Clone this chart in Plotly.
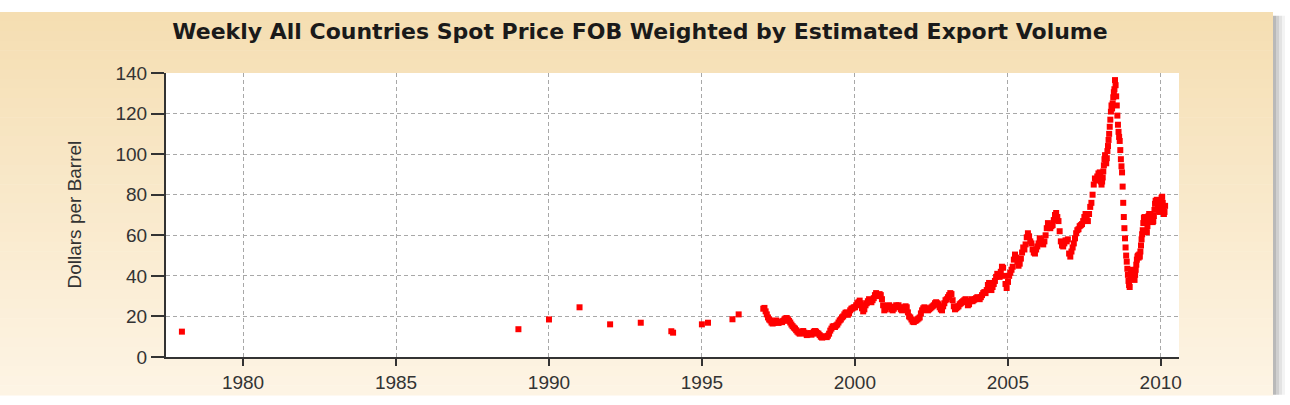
import pandas as pd
import plotly.graph_objects as go

# ---------------- data ----------------
early_dates = ["1978-01-01", "1989-01-01", "1990-01-01", "1991-01-01", "1992-01-01",
               "1993-01-01", "1994-01-01", "1994-01-22", "1995-01-01", "1995-03-15",
               "1996-01-01", "1996-03-15"]
early_vals = [12.5, 13.7, 18.5, 24.5, 16.1, 16.9, 12.7, 12.0, 16.1, 16.9, 18.6, 21.0]

# bi-weekly readings, 26 per year
biweekly = {
    1997: [23.8, 24.2, 22.5, 21.0, 19.5, 18.5, 18.0, 17.0, 16.5, 16.8, 17.5, 18.0, 17.2,
           16.8, 17.2, 17.5, 17.2, 17.8, 18.5, 19.0, 19.2, 18.5, 17.8, 17.0, 16.0, 15.2],
    1998: [14.5, 14.0, 13.2, 12.5, 12.0, 11.5, 12.0, 12.5, 12.8, 12.0, 11.5, 10.8, 11.2,
           11.5, 11.8, 11.0, 11.5, 12.5, 12.8, 12.5, 11.8, 11.5, 10.8, 10.0, 9.6, 9.8],
    1999: [10.2, 10.0, 9.8, 10.5, 11.5, 13.0, 14.0, 15.0, 15.2, 14.8, 15.5, 16.0, 17.0,
           18.0, 18.5, 19.5, 20.0, 21.0, 21.8, 22.0, 20.8, 21.5, 23.0, 23.8, 24.0, 24.5],
    2000: [24.5, 25.5, 26.5, 27.0, 27.8, 26.5, 24.0, 22.5, 23.5, 25.5, 26.5, 27.5, 28.5,
           27.8, 27.0, 28.0, 29.0, 30.5, 31.5, 30.0, 30.5, 31.0, 30.5, 28.5, 25.5, 23.0],
    2001: [23.5, 24.8, 25.2, 25.5, 24.5, 23.5, 23.0, 23.8, 24.8, 25.5, 25.0, 25.5, 24.5,
           23.5, 23.0, 24.0, 24.5, 25.0, 24.5, 22.0, 20.0, 19.5, 18.5, 17.5, 17.2, 17.8],
    2002: [18.0, 18.5, 19.0, 19.5, 21.5, 23.0, 24.0, 24.5, 24.0, 23.5, 23.0, 23.5, 24.0,
           24.5, 25.0, 25.5, 26.5, 27.0, 26.5, 26.0, 24.5, 23.5, 23.0, 25.0, 26.5, 28.0],
    2003: [28.5, 29.5, 30.5, 31.5, 31.0, 28.0, 25.0, 23.5, 24.0, 24.5, 25.0, 26.0, 26.5,
           27.0, 27.5, 28.0, 28.5, 27.5, 25.5, 26.0, 27.5, 28.5, 27.5, 28.0, 28.5, 29.0],
    2004: [29.5, 29.0, 28.5, 29.5, 30.5, 31.5, 32.0, 31.5, 33.0, 35.5, 36.5, 34.0, 33.0,
           34.5, 36.0, 37.5, 39.5, 41.0, 40.0, 39.5, 42.0, 44.5, 44.0, 40.0, 36.0, 34.0],
    2005: [37.0, 40.0, 41.5, 43.0, 44.5, 48.0, 50.5, 49.0, 47.0, 45.0, 46.0, 48.5, 51.5,
           54.0, 53.0, 55.5, 59.0, 61.0, 59.5, 57.0, 56.0, 53.0, 51.5, 51.0, 53.0, 54.5],
    2006: [56.0, 58.5, 58.0, 56.0, 55.5, 57.0, 60.0, 63.5, 66.0, 65.0, 63.5, 64.5, 65.0,
           67.5, 70.0, 71.0, 69.0, 67.0, 62.0, 57.0, 55.0, 54.5, 56.0, 57.5, 57.0, 58.0],
    2007: [51.0, 49.5, 52.0, 54.0, 56.0, 58.5, 61.0, 62.5, 63.0, 64.5, 65.0, 65.5, 67.0,
           69.0, 70.5, 68.0, 67.0, 70.5, 74.0, 76.0, 80.0, 85.0, 88.0, 87.0, 89.0, 90.5],
}

# weekly readings
weekly = {
    2008: [91.0, 89.0, 86.5, 85.0,
           86.5, 88.5, 91.5, 94.5,
           97.5, 99.5, 97.0, 95.5, 98.0,
           101.5, 104.0, 107.0, 110.0,
           113.5, 117.0, 121.0, 124.0,
           122.5, 125.0, 128.0, 130.5, 132.0,
           136.5, 134.0, 128.5, 124.0,
           119.0, 114.5, 111.0, 108.5,
           106.5, 102.0, 97.5, 94.0, 91.0,
           84.0, 76.0, 69.0, 63.5,
           58.5, 54.0, 50.0, 47.0,
           43.5, 40.5, 37.5, 35.5, 34.5],
    2009: [38.5, 41.0, 40.0, 42.5, 43.0,
           41.5, 40.0, 38.0, 40.5,
           43.0, 45.5, 48.0, 49.5,
           50.0, 49.0, 50.5, 49.5,
           52.0, 55.0, 58.0, 60.5, 62.5,
           66.0, 68.5, 69.0, 68.0,
           66.5, 62.0, 61.5, 64.5, 67.0,
           69.5, 70.5, 68.5, 70.0,
           69.0, 67.5, 68.0, 66.5,
           67.0, 69.5, 72.5, 75.5, 77.0,
           76.5, 77.5, 76.0, 75.0,
           74.0, 72.0, 71.5, 73.5],
    2010: [76.0, 78.5, 79.0, 76.0, 72.5, 70.5, 71.5, 74.5],
}

x_tick_years = [1980, 1985, 1990, 1995, 2000, 2005, 2010]
y_ticks = [0, 20, 40, 60, 80, 100, 120, 140]

title_text = "Weekly All Countries Spot Price FOB Weighted by Estimated Export Volume"
y_title = "Dollars per Barrel"

# ---------------- build series ----------------
dates = list(pd.to_datetime(early_dates))
vals = list(early_vals)
for yr, v in biweekly.items():
    dates += list(pd.date_range(f"{yr}-01-03", periods=len(v), freq="14D"))
    vals += v
for yr, v in weekly.items():
    dates += list(pd.date_range(f"{yr}-01-04", periods=len(v), freq="7D"))
    vals += v

# ---------------- geometry helpers (pixels -> paper) ----------------
W, H = 1290, 405
L, R, T, B = 166, 1179, 73, 366
pw, ph = R - L, B - T


def px(xp):
    return (xp - L) / pw


def py(yp):
    return (B - yp) / ph


shapes = []
# beige vertical gradient frame
top_c = (245, 222, 178)
bot_c = (253, 244, 228)
n = 40
y0p, y1p = 10, 405
for i in range(n):
    a = y0p + (y1p - y0p) * i / n
    b = y0p + (y1p - y0p) * (i + 1) / n + 0.6
    t = i / (n - 1)
    c = tuple(int(round(top_c[k] + (bot_c[k] - top_c[k]) * t)) for k in range(3))
    shapes.append(dict(type="rect", xref="paper", yref="paper", layer="below",
                       x0=px(0), x1=px(1273), y0=py(b), y1=py(a),
                       line=dict(width=0), fillcolor=f"rgb{c}"))
# right shadow
for (a, b, col) in [(1273, 1276, "#b9b9b9"), (1276, 1279, "#cfcfcf"), (1279, 1282, "#e3e3e3"), (1282, 1285, "#f3f3f3")]:
    shapes.append(dict(type="rect", xref="paper", yref="paper", layer="below",
                       x0=px(a), x1=px(b), y0=py(405), y1=py(14),
                       line=dict(width=0), fillcolor=col))
# white plot area
shapes.append(dict(type="rect", xref="paper", yref="paper", layer="below",
                   x0=0, x1=1, y0=0, y1=1, line=dict(width=0), fillcolor="white"))

fig = go.Figure()
fig.add_trace(go.Scatter(
    x=dates, y=vals, mode="markers",
    marker=dict(symbol="square", size=6, color="#ff0000", line=dict(width=0)),
    hoverinfo="x+y", showlegend=False,
))

font_fam = "Liberation Sans, Arial, sans-serif"
fig.update_layout(
    width=W, height=H,
    margin=dict(l=L, r=W - R, t=T, b=H - B, pad=0),
    paper_bgcolor="white",
    plot_bgcolor="rgba(0,0,0,0)",
    shapes=shapes,
    font=dict(family=font_fam, color="#333333", size=19),
    title=dict(text=title_text, x=640 / W, xanchor="center", xref="container",
               y=1 - 31 / H, yanchor="middle", yref="container",
               font=dict(family="DejaVu Sans, Verdana, sans-serif", size=22,
                         color="#1a1a1a", weight="bold")),
    annotations=[dict(text=y_title, textangle=-90, xref="paper", yref="paper",
                      x=px(75), y=py(219), xanchor="center", yanchor="middle",
                      showarrow=False, font=dict(family=font_fam, size=19, color="#333333"))],
)

grid_dash = "4px,3px"
fig.update_xaxes(
    type="date",
    range=["1977-06-25", "2010-08-07"],
    tickvals=[f"{y}-01-01" for y in x_tick_years],
    ticktext=[str(y) for y in x_tick_years],
    ticks="outside", ticklen=7, tickwidth=2, tickcolor="#333333",
    showline=True, linecolor="#333333", linewidth=2,
    showgrid=True, gridcolor="#a8a8a8", gridwidth=1, griddash=grid_dash,
    zeroline=False, tickfont=dict(size=19, color="#333333"),
)
fig.update_yaxes(
    range=[0, 140],
    tickvals=y_ticks,
    ticks="outside", ticklen=13, tickwidth=2, tickcolor="#333333",
    showline=True, linecolor="#333333", linewidth=2,
    showgrid=True, gridcolor="#a8a8a8", gridwidth=1, griddash=grid_dash,
    zeroline=False, tickfont=dict(size=19, color="#333333"),
)

fig.write_html("out.html")
